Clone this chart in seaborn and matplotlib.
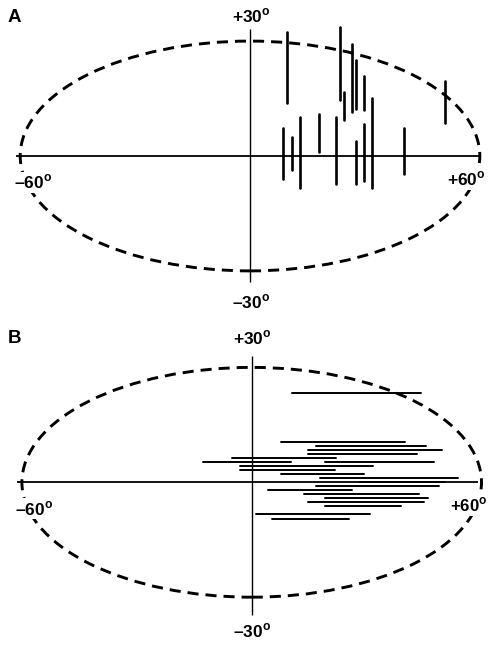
import numpy as np
import pandas as pd
import matplotlib
matplotlib.use("Agg")
import matplotlib.pyplot as plt
from matplotlib.patches import Ellipse
import seaborn as sns

# ---------------- data (degrees) ----------------
# Panel A: vertical segments (azimuth, elevation low, elevation high)
a_x    = [9.7, 23.5, 24.5, 26.6, 27.7, 29.8, 31.9, 50.9,
          8.7, 10.9, 13.0, 18.1, 22.4, 27.7, 29.8, 40.2]
a_ylo  = [13.8, 14.6, 9.4, 11.4, 12.2, 12.0, -8.4, 8.5,
          -6.1, -3.7, -8.4, 1.0, -7.4, -7.4, -6.5, -4.7]
a_yhi  = [32.3, 33.6, 16.8, 29.2, 25.0, 20.9, 15.2, 19.6,
          7.2, 5.0, 10.3, 10.9, 10.3, 4.0, 8.3, 7.2]

# Panel B: horizontal segments (elevation, azimuth low, azimuth high)
b_y    = [23.3, 10.6, 9.6, 8.5, 7.5, 6.4, 5.2, 5.2, 4.3, 3.2,
          2.2, 1.1, 0.0, -1.0, -2.1, -3.1, -4.2, -5.2, -6.3, -8.3, -9.5]
b_xlo  = [10.6, 7.6, 16.8, 14.8, 14.8, -5.2, -12.6, 19.1, -3.1, -3.1,
          7.6, 17.9, 28.4, 16.8, 4.3, 13.7, 19.1, 14.8, 19.1, 1.0, 5.2]
b_xhi  = [44.1, 39.9, 45.4, 49.8, 43.2, 22.1, 10.3, 47.5, 31.8, 21.8,
          29.2, 53.8, 50.4, 49.0, 26.2, 43.7, 46.0, 44.9, 39.0, 31.0, 25.3]

tick_top, tick_bot, tick_left, tick_right = "+30", "\u201330", "\u201360", "+60"

# ---------------- long-form tables ----------------
dfA = pd.DataFrame({
    "id": np.repeat(np.arange(len(a_x)), 2),
    "x": np.repeat(a_x, 2),
    "y": np.column_stack([a_ylo, a_yhi]).ravel(),
})
dfB = pd.DataFrame({
    "id": np.repeat(np.arange(len(b_y)), 2),
    "x": np.column_stack([b_xlo, b_xhi]).ravel(),
    "y": np.repeat(b_y, 2),
})

sns.set_style("white")
plt.rcParams["font.family"] = ["Liberation Sans", "DejaVu Sans"]
plt.rcParams["mathtext.fontset"] = "custom"
plt.rcParams["mathtext.rm"] = "Liberation Sans:bold"
plt.rcParams["mathtext.bf"] = "Liberation Sans:bold"

W, H = 490, 645
fig = plt.figure(figsize=(W / 100, H / 100), dpi=100)

def make_axes(top, bottom, cx, cy, s):
    ax = fig.add_axes([0, 1 - bottom / H, 1, (bottom - top) / H])
    ax.set_xlim((0 - cx) / s, (W - cx) / s)
    ax.set_ylim((cy - bottom) / s, (cy - top) / s)
    ax.axis("off")
    return ax

S = 3.83
axA = make_axes(0, 320, 250, 156, S)
axB = make_axes(322, 645, 251.7, 482.3, S)

dash = (0, (3.8, 2.4))
for ax, hx, vy in [(axA, (-61.1, 60.4), (33.2, -32.9)),
                   (axB, (-61.4, 59.2), (33.1, -34.6))]:
    ax.add_patch(Ellipse((0, 0), 120, 60, fill=False, ec="black",
                         lw=2.1, ls=dash, zorder=1))
    ax.hlines(0, hx[0], hx[1], color="black", lw=1.3, zorder=2)
    ax.vlines(0, vy[1], vy[0], color="black", lw=1.0, zorder=2)

sns.lineplot(data=dfA, x="x", y="y", units="id", estimator=None, sort=False,
             color="black", lw=1.9, ax=axA, legend=False, zorder=3)
sns.lineplot(data=dfB, x="x", y="y", units="id", estimator=None, sort=False,
             color="black", lw=1.4, ax=axB, legend=False, zorder=3)
axA.axis("off"); axB.axis("off")

box = dict(facecolor="white", edgecolor="none", pad=1.0)

def ftext(x, y, s, bg=True, **kw):
    fig.text(x / W, 1 - y / H, s, fontweight="bold", color="black",
             bbox=box if bg else None, **kw)

deg = r"$^{\mathbf{o}}$"
# panel A labels
ftext(8, 22, "A", bg=False, fontsize=13.5, va="baseline", ha="left")
ftext(232, 22.7, tick_top + deg, fontsize=12.5, va="baseline", ha="left")
ftext(232, 308.3, tick_bot + deg, fontsize=12.5, va="baseline", ha="left")
ftext(14, 188.7, tick_left + deg, fontsize=12.5, va="baseline", ha="left")
ftext(447, 185.3, tick_right + deg, fontsize=12.5, va="baseline", ha="left")
# panel B labels
ftext(8, 343, "B", bg=False, fontsize=13.5, va="baseline", ha="left")
ftext(233, 344, tick_top + deg, fontsize=12.5, va="baseline", ha="left")
ftext(233, 637, tick_bot + deg, fontsize=12.5, va="baseline", ha="left")
ftext(15, 515, tick_left + deg, fontsize=12.5, va="baseline", ha="left")
ftext(450, 511.7, tick_right + deg, fontsize=12.2, va="baseline", ha="left")

fig.savefig("out.png", dpi=100, facecolor="white")
